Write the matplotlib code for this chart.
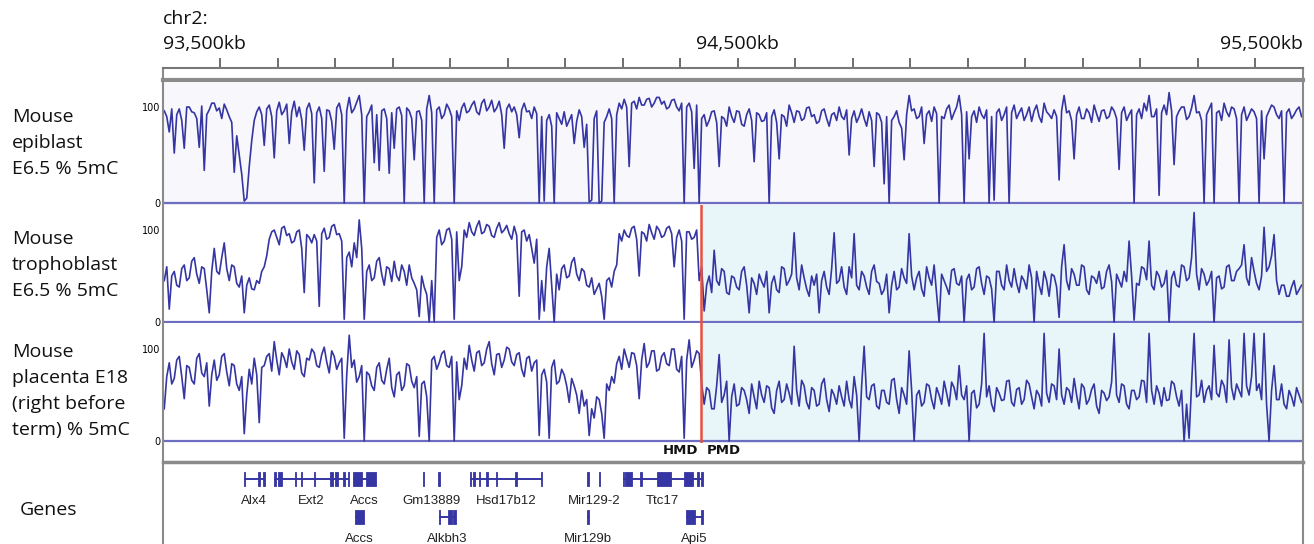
import matplotlib
matplotlib.use("Agg")
import matplotlib.pyplot as plt
import numpy as np

W, H = 1314, 544

# genomic window (kb) and methylation bins
view_start_kb = 93500
view_end_kb = 95483
bin_kb = 4.348
ruler_ticks_kb = np.arange(93600, 95401, 100)
ruler_labels = {93500: "93,500kb", 94500: "94,500kb", 95500: "95,500kb"}
hmd_pmd_boundary_kb = 94436

# % 5mC per bin
epiblast = [
    96, 90, 74, 98, 52, 92, 98, 86, 57, 100, 100, 95, 94, 88, 58, 101, 34, 92, 97, 104,
    104, 96, 99, 88, 103, 97, 90, 84, 32, 70, 50, 30, 2, 5, 38, 65, 86, 95, 100, 92,
    60, 98, 102, 90, 47, 96, 105, 92, 96, 103, 62, 95, 106, 90, 100, 87, 55, 98, 104, 93,
    21, 94, 100, 88, 33, 97, 96, 85, 56, 99, 104, 92, 0, 96, 110, 94, 98, 105, 112, 92,
    0, 90, 95, 102, 42, 92, 34, 96, 98, 88, 31, 94, 57, 98, 100, 91, 0, 99, 96, 88,
    45, 95, 96, 86, 0, 98, 112, 94, 0, 97, 100, 88, 92, 103, 98, 90, 0, 96, 86, 99,
    104, 94, 96, 102, 106, 95, 92, 104, 108, 96, 100, 107, 95, 99, 106, 92, 57, 98, 103, 95,
    100, 92, 68, 97, 104, 95, 96, 88, 100, 93, 0, 90, 2, 86, 92, 80, 0, 94, 88, 82,
    95, 80, 86, 92, 62, 85, 97, 90, 58, 82, 1, 3, 88, 96, 0, 2, 84, 90, 98, 88,
    0, 92, 104, 98, 108, 100, 38, 104, 106, 98, 110, 102, 102, 108, 109, 100, 104, 110, 110, 103,
    106, 98, 100, 107, 108, 100, 96, 104, 0, 100, 104, 95, 36, 102, 0, 88, 92, 80, 86, 95,
    96, 84, 38, 90, 88, 80, 100, 90, 84, 96, 95, 82, 80, 92, 98, 86, 43, 94, 92, 85,
    86, 94, 0, 90, 97, 84, 46, 92, 90, 80, 102, 94, 84, 96, 95, 86, 88, 99, 100, 90,
    92, 83, 85, 96, 98, 88, 80, 92, 94, 86, 100, 90, 87, 97, 50, 88, 96, 84, 90, 98,
    88, 80, 95, 86, 38, 94, 92, 84, 20, 90, 0, 86, 90, 96, 84, 78, 45, 92, 112, 96,
    98, 88, 90, 100, 62, 92, 96, 85, 100, 93, 0, 90, 88, 98, 102, 87, 94, 100, 112, 92,
    0, 95, 46, 90, 96, 84, 100, 92, 88, 97, 0, 90, 3, 94, 98, 86, 92, 100, 0, 94,
    102, 88, 94, 99, 86, 92, 100, 85, 96, 102, 90, 84, 104, 95, 92, 88, 97, 90, 24, 96,
    112, 94, 96, 86, 46, 92, 100, 88, 88, 98, 94, 84, 102, 93, 85, 96, 97, 88, 90, 100,
    96, 88, 35, 94, 100, 86, 92, 97, 0, 92, 98, 88, 104, 96, 112, 90, 90, 98, 8, 94,
    102, 92, 115, 96, 40, 90, 96, 100, 100, 87, 90, 99, 112, 94, 95, 86, 0, 92, 98, 104,
    0, 94, 96, 86, 104, 95, 90, 100, 98, 88, 0, 92, 100, 86, 92, 98, 95, 88, 0, 96,
    46, 90, 96, 102, 100, 92, 88, 96, 0, 94, 98, 88, 92, 97, 100, 90,
]
trophoblast = [
    45, 60, 14, 50, 55, 40, 38, 58, 62, 45, 48, 66, 70, 52, 42, 60, 58, 35, 10, 55,
    80, 55, 52, 70, 86, 58, 45, 62, 60, 42, 38, 50, 10, 40, 48, 36, 35, 45, 42, 55,
    60, 72, 90, 98, 100, 92, 84, 102, 104, 94, 96, 86, 88, 98, 100, 80, 32, 95, 92, 86,
    95, 88, 17, 96, 102, 90, 92, 104, 106, 95, 96, 88, 3, 70, 76, 60, 86, 70, 111, 80,
    3, 55, 62, 45, 48, 66, 70, 52, 40, 60, 58, 44, 66, 50, 45, 62, 55, 40, 62, 48,
    42, 35, 6, 50, 38, 30, 0, 45, 0, 92, 100, 84, 88, 100, 102, 90, 3, 98, 45, 60,
    100, 92, 108, 98, 94, 104, 110, 96, 98, 106, 104, 94, 92, 102, 108, 97, 100, 105, 96, 90,
    104, 94, 28, 98, 100, 88, 95, 80, 64, 90, 3, 45, 12, 60, 80, 40, 0, 52, 35, 58,
    62, 48, 50, 65, 70, 52, 45, 58, 55, 40, 38, 48, 30, 36, 42, 28, 3, 45, 48, 38,
    55, 62, 96, 88, 100, 94, 92, 102, 104, 90, 50, 98, 96, 88, 106, 97, 90, 104, 100, 92,
    94, 102, 104, 96, 60, 92, 100, 88, 3, 98, 98, 90, 92, 100, 45, 60, 12, 40, 50, 32,
    78, 45, 40, 58, 55, 32, 30, 50, 48, 38, 35, 55, 60, 40, 10, 48, 42, 30, 52, 44,
    38, 55, 10, 42, 50, 35, 32, 60, 58, 40, 45, 52, 97, 48, 35, 62, 48, 36, 28, 50,
    40, 52, 10, 45, 55, 38, 30, 58, 97, 42, 45, 60, 38, 30, 60, 48, 96, 40, 35, 55,
    50, 38, 30, 55, 62, 44, 42, 30, 35, 52, 10, 40, 55, 35, 38, 58, 48, 42, 96, 50,
    35, 48, 55, 36, 28, 60, 48, 40, 62, 30, 0, 52, 45, 38, 30, 56, 58, 42, 40, 50,
    0, 46, 52, 35, 38, 58, 60, 42, 30, 50, 48, 36, 0, 55, 55, 40, 35, 62, 45, 38,
    58, 42, 32, 50, 45, 36, 62, 48, 0, 55, 40, 30, 55, 45, 28, 52, 50, 38, 5, 60,
    84, 45, 35, 58, 52, 40, 40, 62, 60, 35, 30, 50, 48, 42, 55, 36, 38, 55, 62, 44,
    0, 52, 45, 38, 55, 44, 88, 50, 2, 42, 40, 60, 58, 46, 88, 40, 35, 55, 50, 38,
    42, 56, 0, 48, 55, 40, 38, 62, 60, 45, 48, 70, 119, 52, 35, 58, 52, 40, 45, 55,
    0, 48, 50, 36, 38, 60, 62, 45, 45, 55, 58, 62, 84, 48, 40, 70, 55, 42, 35, 50,
    103, 55, 60, 72, 95, 45, 30, 40, 40, 28, 28, 38, 45, 30, 35, 40,
]
placenta = [
    35, 70, 85, 62, 68, 88, 92, 70, 46, 82, 80, 66, 62, 90, 95, 74, 70, 85, 38, 72,
    88, 66, 72, 92, 95, 75, 60, 84, 82, 62, 55, 70, 8, 50, 78, 62, 90, 72, 20, 80,
    82, 92, 95, 76, 108, 88, 72, 96, 90, 80, 100, 86, 78, 98, 94, 74, 70, 90, 88, 100,
    96, 82, 80, 94, 102, 86, 74, 98, 92, 78, 85, 90, 3, 72, 115, 80, 88, 64, 70, 82,
    0, 75, 72, 60, 55, 80, 85, 66, 62, 78, 90, 58, 48, 72, 75, 55, 60, 84, 82, 65,
    58, 70, 5, 62, 65, 48, 0, 88, 92, 78, 85, 95, 98, 82, 80, 92, 0, 86, 45, 60,
    90, 78, 104, 88, 76, 96, 98, 82, 85, 100, 108, 84, 72, 94, 95, 80, 88, 102, 100, 86,
    82, 94, 96, 78, 70, 90, 92, 76, 85, 88, 6, 72, 78, 64, 3, 80, 88, 62, 65, 78,
    72, 60, 42, 68, 60, 50, 30, 55, 38, 45, 6, 35, 25, 48, 45, 30, 3, 62, 55, 70,
    63, 84, 92, 78, 100, 90, 80, 96, 95, 82, 46, 88, 106, 80, 85, 98, 98, 76, 78, 92,
    96, 84, 82, 100, 100, 78, 75, 92, 3, 88, 110, 80, 88, 98, 95, 62, 40, 58, 55, 35,
    35, 60, 94, 42, 50, 65, 0, 48, 62, 38, 40, 58, 55, 45, 30, 62, 48, 35, 65, 50,
    42, 60, 58, 36, 30, 55, 65, 42, 45, 62, 52, 40, 103, 55, 38, 66, 60, 42, 35, 58,
    55, 38, 40, 62, 68, 45, 32, 56, 50, 40, 60, 48, 38, 65, 45, 36, 70, 50, 0, 60,
    103, 48, 45, 60, 62, 38, 35, 55, 55, 42, 40, 66, 68, 45, 30, 58, 50, 40, 98, 55,
    0, 50, 55, 38, 42, 62, 60, 45, 35, 58, 50, 40, 65, 52, 38, 64, 58, 45, 82, 50,
    45, 60, 0, 52, 55, 36, 40, 62, 117, 48, 60, 40, 32, 58, 52, 44, 45, 65, 66, 42,
    38, 56, 58, 40, 45, 66, 62, 48, 35, 55, 50, 38, 117, 52, 42, 62, 60, 45, 100, 50,
    40, 58, 55, 42, 68, 50, 35, 62, 58, 40, 45, 56, 62, 38, 30, 55, 52, 44, 48, 64,
    117, 50, 42, 62, 60, 40, 35, 55, 55, 45, 48, 66, 65, 42, 117, 55, 40, 60, 52, 38,
    58, 44, 45, 65, 62, 48, 38, 55, 0, 40, 3, 62, 117, 48, 50, 66, 42, 55, 60, 45,
    104, 52, 48, 66, 60, 42, 110, 58, 45, 62, 55, 48, 117, 60, 50, 70, 117, 55, 62, 45,
    117, 40, 0, 55, 82, 45, 45, 62, 40, 35, 55, 48, 38, 58, 50, 42,
]
track_labels = [
    "Mouse\nepiblast\nE6.5 % 5mC",
    "Mouse\ntrophoblast\nE6.5 % 5mC",
    "Mouse\nplacenta E18\n(right before\nterm) % 5mC",
]

# RefSeq genes: name, display row, exons (kb), drawn with intron line or not
gene_names = ["Alx4", "Ext2", "Accs", "Gm13889", "Hsd17b12", "Mir129-2", "Ttc17",
              "Accs", "Alkbh3", "Mir129b", "Api5"]
gene_rows = [0, 0, 0, 0, 0, 0, 0, 1, 1, 1, 1]
gene_linked = [True, True, True, False, True, False, True, True, True, True, True]
gene_exons = [
    [(93640.5, 93643.5), (93665.0, 93668.7), (93673.5, 93677.0)],
    [(93693.0, 93696.5), (93700.0, 93707.0), (93729.6, 93732.2), (93740.0, 93742.6),
     (93762.6, 93765.2), (93790.4, 93795.7), (93799.1, 93804.3), (93813.0, 93816.5),
     (93821.0, 93823.5)],
    [(93830.4, 93847.0), (93853.0, 93870.4)],
    [(93952.0, 93954.6), (93978.7, 93981.3)],
    [(94033.2, 94035.7), (94039.1, 94042.6), (94049.6, 94052.2), (94062.6, 94065.2),
     (94079.1, 94081.7), (94112.2, 94116.5), (94157.4, 94159.6)],
    [(94238.0, 94240.5), (94258.5, 94261.0)],
    [(94299.3, 94301.7), (94303.5, 94315.6), (94329.6, 94333.0), (94359.1, 94383.5),
     (94406.1, 94421.7), (94428.7, 94432.2), (94435.7, 94439.1)],
    [(93833.4, 93850.1)],
    [(93980.0, 93982.6), (93996.5, 94002.6), (94005.2, 94009.6)],
    [(94238.0, 94240.5)],
    [(94409.2, 94426.1), (94435.7, 94439.1)],
]

TRACE = "#3535a3"
BASE = "#6d6dc2"
FRAME = "#8a8a8a"
BIG_FONT = ["Open Sans", "DejaVu Sans"]


def px_axes(fig, left, top, right, bottom, **kw):
    return fig.add_axes([left / W, 1 - bottom / H, (right - left) / W, (bottom - top) / H], **kw)


fig = plt.figure(figsize=(W / 100, H / 100), dpi=100)

# ruler
ax_r = px_axes(fig, 163, 68, 1303, 80)
ax_r.set_xlim(view_start_kb, view_end_kb)
ax_r.set_ylim(0, 1)
ax_r.xaxis.tick_top()
ax_r.set_xticks(ruler_ticks_kb)
ax_r.set_xticklabels([])
ax_r.set_yticks([])
ax_r.tick_params(axis="x", length=7.5, width=1.2, color="#555555", direction="out")
for side in ["left", "right"]:
    ax_r.spines[side].set_color(FRAME)
    ax_r.spines[side].set_linewidth(1.5)
ax_r.spines["top"].set_color("#777777")
ax_r.spines["top"].set_linewidth(1.5)
ax_r.spines["bottom"].set_color("#8c8c8c")
ax_r.spines["bottom"].set_linewidth(3)
has = {93500: "left", 94500: "center", 95500: "right"}
for kb, txt in ruler_labels.items():
    x = min(max(kb, view_start_kb), view_end_kb)
    ax_r.text(x, 3.0, txt, transform=ax_r.get_xaxis_transform(), ha=has[kb], va="center",
              fontsize=14, family=BIG_FONT, color="#111111")
ax_r.text(view_start_kb, 5.1, "chr2:", transform=ax_r.get_xaxis_transform(), ha="left",
          va="center", fontsize=14, family=BIG_FONT, color="#111111")

# methylation tracks
centers = view_start_kb + bin_kb * (np.arange(len(epiblast)) + 0.5)
tracks = [
    (epiblast, 83, 205, (-2.08, 125.0), False),
    (trophoblast, 205, 323, (-1.09, 127.2), True),
    (placenta, 323, 443, (-2.17, 128.3), True),
]
label_y = [143, 265, 391]
for (vals, top, bottom, ylim, shade), lab, ly in zip(tracks, track_labels, label_y):
    ax = px_axes(fig, 163, top, 1303, bottom)
    ax.set_facecolor("white" if shade else "#f7f7fc")
    if shade:
        ax.axvspan(hmd_pmd_boundary_kb, view_end_kb, color="#e8f6f9", lw=0, zorder=0)
    ax.axhline(0, color=BASE, lw=1.6, zorder=2)
    ax.plot(centers, vals, color=TRACE, lw=1.2, zorder=3)
    if shade:
        ax.axvline(hmd_pmd_boundary_kb, color="#e8513e", lw=1.8, zorder=4)
    ax.set_xlim(view_start_kb, view_end_kb)
    ax.set_ylim(*ylim)
    ax.set_xticks([])
    ax.set_yticks([0, 100])
    ax.set_yticklabels(["0", "100"])
    ax.tick_params(axis="y", length=0, pad=2, labelsize=7)
    for s in ax.spines.values():
        s.set_visible(False)
    fig.text(12 / W, 1 - ly / H, lab, ha="left", va="center", fontsize=14,
             family=BIG_FONT, linespacing=1.55, color="#111111")

# genes
ax_g = px_axes(fig, 163, 463, 1303, 544)
ax_g.set_xlim(view_start_kb, view_end_kb)
ax_g.set_ylim(81, 0)
ax_g.axis("off")
row_y = [16, 54]
for name, row, linked, exons in zip(gene_names, gene_rows, gene_linked, gene_exons):
    y = row_y[row]
    start, end = exons[0][0], exons[-1][1]
    if linked:
        ax_g.plot([start, end], [y, y], color=TRACE, lw=1.4, solid_capstyle="butt")
    ax_g.broken_barh([(s, e - s) for s, e in exons], (y - 7, 14), color=TRACE, lw=0.6,
                     edgecolor=TRACE)
    ax_g.text((start + end) / 2, y + 22, name, ha="center", va="center", fontsize=9.5,
              family=["Liberation Sans", "DejaVu Sans"], color="#222222")

# frame, boundary labels
ov = fig.add_axes([0, 0, 1, 1], facecolor="none")
ov.set_xlim(0, W)
ov.set_ylim(H, 0)
ov.axis("off")
ov.plot([163, 163], [80, 544], color=FRAME, lw=1.5)
ov.plot([1303, 1303], [80, 544], color=FRAME, lw=1.5)
ov.plot([163, 1303], [462, 462], color=FRAME, lw=2.5)
ov.text(698, 451, "HMD", ha="right", va="center", fontsize=9.5, fontweight="bold", color="#111111")
ov.text(707, 451, "PMD", ha="left", va="center", fontsize=9.5, fontweight="bold", color="#111111")
ov.text(20, 510, "Genes", ha="left", va="center", fontsize=14, family=BIG_FONT, color="#111111")

fig.savefig("out.png", dpi=100)
